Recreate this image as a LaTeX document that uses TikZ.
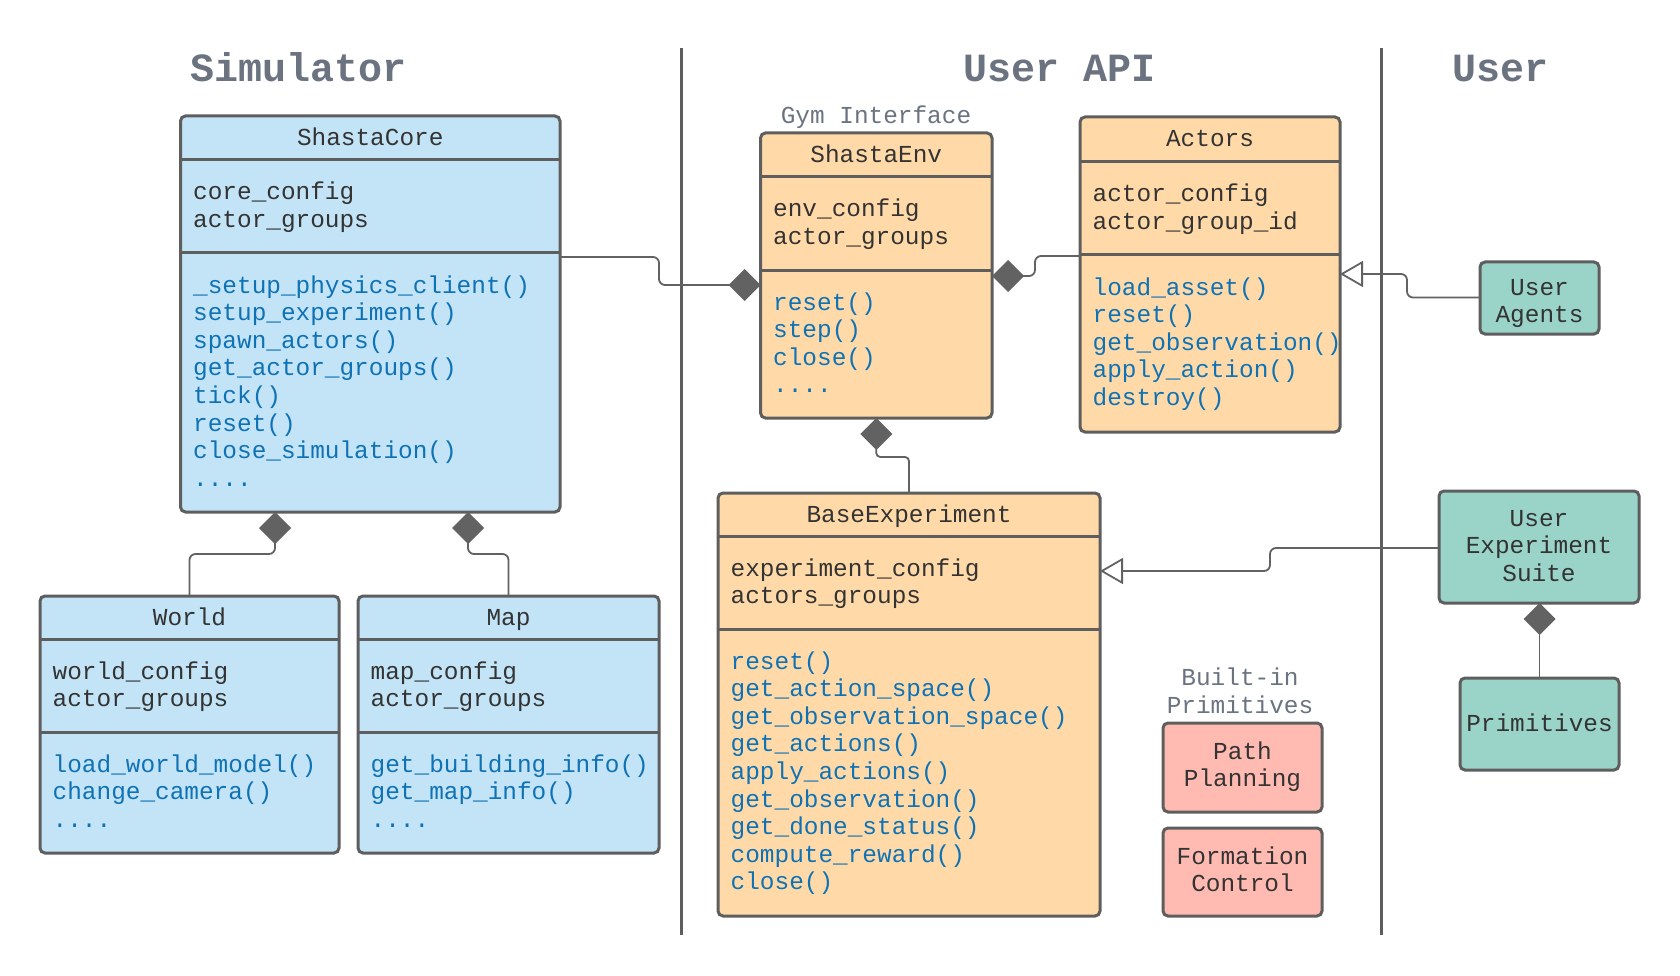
\documentclass[tikz,border=0pt]{standalone}
\usepackage{fontspec}
\newfontfamily\lmono{Liberation Mono}
\usetikzlibrary{arrows.meta}
\definecolor{bluefill}{HTML}{C3E4F6}
\definecolor{orangefill}{HTML}{FFDAA8}
\definecolor{tealfill}{HTML}{9AD4C9}
\definecolor{pinkfill}{HTML}{FFBBB1}
\definecolor{bordercol}{HTML}{5E5E5E}
\definecolor{linecol}{HTML}{626262}
\definecolor{methcol}{HTML}{0F72B5}
\definecolor{txtcol}{HTML}{333333}
\definecolor{titlecol}{HTML}{6C7380}
\newcommand\fourdots{....}
\tikzset{
  box/.style={draw=bordercol, line width=3pt, rounded corners=5pt, inner sep=0pt, outer sep=0pt, anchor=north west},
  sepline/.style={draw=bordercol, line width=3pt},
  vsep/.style={draw=bordercol, line width=3pt},
  body/.style={font=\lmono\fontsize{24.4pt}{27.6pt}\selectfont, text=txtcol, inner sep=0pt, anchor=base west},
  meth/.style={body, text=methcol},
  ctext/.style={body, anchor=base},
  ttl/.style={body, anchor=base},
  label/.style={body, anchor=base, text=titlecol},
  bigttl/.style={font=\lmono\bfseries\fontsize{40pt}{48pt}\selectfont, text=titlecol, inner sep=0pt, anchor=base},
  conn/.style={draw=linecol, line width=1.8pt, rounded corners=6pt},
  comp/.style={conn, -{Diamond[length=32pt,width=32pt,fill=linecol]}},
  inh/.style={conn, -{Triangle[open,length=23pt,width=26pt,fill=white]}}
}
% name, fill, x, y, w, h, header line y, attr line y
\newcommand\classbox[8]{%
  \node[box, fill=#2, minimum width=#5pt, minimum height=#6pt] (#1) at (#3,#4) {};
  \draw[sepline] (#1.west |- 0,#7) -- (#1.east |- 0,#7);
  \draw[sepline] (#1.west |- 0,#8) -- (#1.east |- 0,#8);}
% prefix, style, x, first baseline, list
\newcommand\textlines[5]{%
  \foreach \t [count=\i from 0] in {#5} {\node[#2] (#1\i) at ({#3},{#4+27.6*\i}) {\t};}}
\begin{document}
\begin{tikzpicture}[x=1pt,y=-1pt]
\fill[white] (0,0) rectangle (1680,976);
\useasboundingbox (0,0) rectangle (1680,976);

% column separators
\coordinate (s1t) at (681,48); \coordinate (s1b) at (681,935);
\coordinate (s2t) at (1381,48); \coordinate (s2b) at (1381,935);
\draw[vsep] (s1t) -- (s1b);
\draw[vsep] (s2t) -- (s2b);

% column titles
\node[bigttl] (tsim) at (299,82) {Simulator};
\node[bigttl] (tapi) at (1060,82) {User API};
\node[bigttl] (tuser) at (1500,82) {User};

% ShastaCore
\classbox{core}{bluefill}{180.5}{116}{379.5}{396}{160}{253}
\node[ttl] (core-t) at (370.25,145.5) {ShastaCore};
\textlines{core-a}{body}{193}{200}{core\_config,actor\_groups}
\textlines{core-m}{meth}{193}{293}{\_setup\_physics\_client(),setup\_experiment(),spawn\_actors(),get\_actor\_groups(),tick(),reset(),close\_simulation(),\fourdots}

% World
\classbox{world}{bluefill}{40}{596}{299}{257}{639}{732}
\node[ttl] (world-t) at (189.5,625.5) {World};
\textlines{world-a}{body}{52.5}{679}{world\_config,actor\_groups}
\textlines{world-m}{meth}{52.5}{772}{load\_world\_model(),change\_camera(),\fourdots}

% Map
\classbox{map}{bluefill}{358}{596}{301}{257}{639}{732}
\node[ttl] (map-t) at (508.5,625.5) {Map};
\textlines{map-a}{body}{370.5}{679}{map\_config,actor\_groups}
\textlines{map-m}{meth}{370.5}{772}{get\_building\_info(),get\_map\_info(),\fourdots}

% ShastaEnv
\node[label] (gym) at (876,124) {Gym Interface};
\classbox{env}{orangefill}{760.5}{133}{231.5}{285}{177}{270}
\node[ttl] (env-t) at (876.25,163) {ShastaEnv};
\textlines{env-a}{body}{773}{217}{env\_config,actor\_groups}
\textlines{env-m}{meth}{773}{310}{reset(),step(),close(),\fourdots}

% Actors
\classbox{actors}{orangefill}{1080}{117}{260}{315}{162}{255}
\node[ttl] (actors-t) at (1210,146.5) {Actors};
\textlines{actors-a}{body}{1092.5}{202}{actor\_config,actor\_group\_id}
\textlines{actors-m}{meth}{1092.5}{295}{load\_asset(),reset(),get\_observation(),apply\_action(),destroy()}

% BaseExperiment
\classbox{base}{orangefill}{718}{493}{382}{423}{536}{629}
\node[ttl] (base-t) at (909,522) {BaseExperiment};
\textlines{base-a}{body}{730.5}{576}{experiment\_config,actors\_groups}
\textlines{base-m}{meth}{730.5}{669}{reset(),get\_action\_space(),get\_observation\_space(),get\_actions(),apply\_actions(),get\_observation(),get\_done\_status(),compute\_reward(),close()}

% Built-in primitives
\textlines{bip}{label}{1240}{685.5}{Built-in,Primitives}
\node[box, fill=pinkfill, minimum width=159pt, minimum height=89pt] (path) at (1163,723) {};
\textlines{path-t}{ctext}{1242.5}{759.2}{Path,Planning}
\node[box, fill=pinkfill, minimum width=159pt, minimum height=88pt] (form) at (1163,828) {};
\textlines{form-t}{ctext}{1242.5}{864}{Formation,Control}

% User side
\node[box, fill=tealfill, minimum width=119pt, minimum height=72pt] (agents) at (1480,262) {};
\textlines{agents-t}{ctext}{1539.5}{295}{User,Agents}
\node[box, fill=tealfill, minimum width=200pt, minimum height=112pt] (ues) at (1439,491) {};
\textlines{ues-t}{ctext}{1539}{526}{User,Experiment,Suite}
\node[box, fill=tealfill, minimum width=159pt, minimum height=92pt] (prims) at (1460,678) {};
\node[ctext] (prims-t) at (1539.5,731) {Primitives};

% connectors
\draw[comp] (core.east |- 0,257) -- (659,257) -- (659,285) -- (env.west |- 0,285);
\draw[comp] (actors.west |- 0,256) -- (1035,256) -- (1035,276) -- (env.east |- 0,276);
\draw[comp, rounded corners=4pt] (base.north) -- (909,457) -- (876.25,457) -- (env.south);
\draw[comp] (world.north) -- (189.5,554) -- (275,554) -- (core.south -| 275,0);
\draw[comp] (map.north) -- (508.5,554) -- (468,554) -- (core.south -| 468,0);
\draw[comp] (prims.north) -- (ues.south -| prims.north);
\draw[inh] (agents.west |- 0,297.5) -- (1407,297.5) -- (1407,274) -- (actors.east |- 0,274);
\draw[inh] (ues.west |- 0,548) -- (1270,548) -- (1270,571) -- (base.east |- 0,571);
\end{tikzpicture}
\end{document}
